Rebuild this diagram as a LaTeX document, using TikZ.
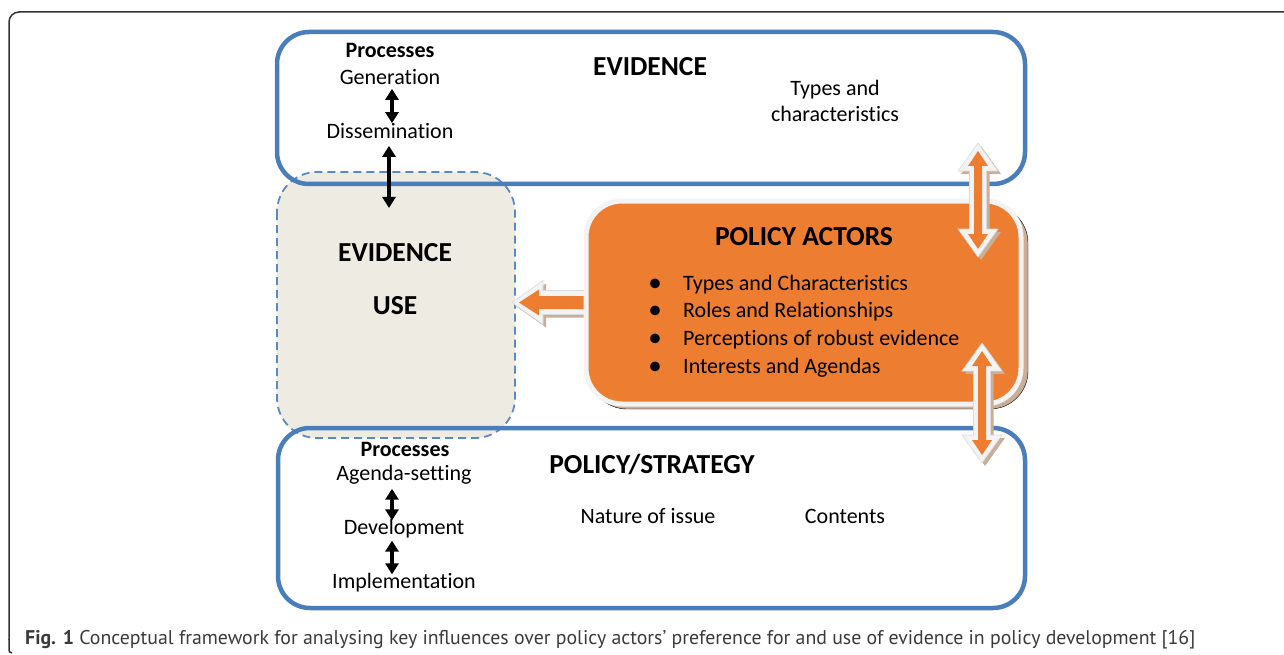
\documentclass[tikz,border=0pt]{standalone}
\usepackage{fontspec}
\usepackage{graphicx}
\setmainfont{Carlito}[Ligatures=NoCommon]
\newfontfamily\capfont{PT Sans}
\usetikzlibrary{arrows.meta,calc}
\definecolor{boxblue}{HTML}{4A7EBB}
\definecolor{dashblue}{HTML}{5A8AC6}
\definecolor{usefill}{HTML}{EEECE2}
\definecolor{actorfill}{HTML}{ED7D31}
\definecolor{glow}{HTML}{F3F3F3}
\definecolor{glowedge}{HTML}{DADADA}
\definecolor{shade}{HTML}{CBAE98}
\definecolor{framegray}{HTML}{333333}
\definecolor{captext}{HTML}{3A3A3A}
\newcommand\VArrowPath[7]{\path[#1] (#2,#3) -- ({#2+#5},{#3+#6}) -- ({#2+#7},{#3+#6}) -- ({#2+#7},{#4-#6}) -- ({#2+#5},{#4-#6}) -- (#2,#4) -- ({#2-#5},{#4-#6}) -- ({#2-#7},{#4-#6}) -- ({#2-#7},{#3+#6}) -- ({#2-#5},{#3+#6}) -- cycle;}
\newcommand\LArrowPath[7]{\path[#1] (#2,#3) -- ({#2+#6},{#3-#5}) -- ({#2+#6},{#3-#7}) -- (#4,{#3-#7}) -- (#4,{#3+#7}) -- ({#2+#6},{#3+#7}) -- ({#2+#6},{#3+#5}) -- cycle;}
\tikzset{
  txt/.style={inner sep=0pt, font=\fontsize{22}{26}\selectfont},
  hdr/.style={inner sep=0pt, font=\fontsize{27.5}{32}\selectfont\bfseries},
  subhdr/.style={inner sep=0pt, font=\fontsize{22}{26}\selectfont\bfseries},
  blk/.style={line width=3.2pt, {Triangle[width=13pt,length=11pt]}-{Triangle[width=13pt,length=11pt]}},
  bluebox/.style={draw=boxblue, line width=4.5pt, rounded corners=32pt},
  usebox/.style={draw=dashblue, line width=1.8pt, dash pattern=on 8pt off 5pt, fill=usefill, rounded corners=40pt},
  actorbox/.style={draw=glow, line width=5pt, fill=actorfill, rounded corners=36pt},
  actorshadow/.style={fill=shade, rounded corners=38pt},
  blockshadow/.style={fill=shade},
  blockout/.style={fill=glow, draw=glowedge, line width=0.6pt},
  blockin/.style={fill=actorfill},
  bullet/.style={inner sep=0pt, font=\fontsize{27}{27}\selectfont},
}
\begin{document}
\begin{tikzpicture}[x=1pt,y=-1pt]
\useasboundingbox (0,0) rectangle (1284,655);
% outer frame
\draw[framegray, line width=1.5pt, rounded corners=10pt] (1290,12) -- (9,12) -- (9,640);
\draw[framegray, line width=1.5pt] (9,639) -- (9,649) .. controls (9,652) .. (12,653);

% evidence use (drawn first, blue frames overlap it)
\draw[usebox] (277,172) rectangle (515,438);
\node[hdr] (useA) at (395,253) {EVIDENCE};
\node[hdr] (useB) at (395,306) {USE};

% top and bottom boxes
\draw[bluebox] (277,32) rectangle (1025,184);
\draw[bluebox] (278,428) rectangle (1025,608);

% evidence box text
\node[subhdr] (procA) at (390,50) {Processes};
\node[txt] (gen) at (390,77) {Generation};
\node[txt] (dis) at (390,131) {Dissemination};
\node[hdr] (evid) at (650,67) {EVIDENCE};
\node[txt, align=center] (types) at (835,101) {Types and\\[0pt]characteristics};
\coordinate (ax1) at (392,0);
\coordinate (ax2) at (389,0);
\coordinate (useTop) at (389,208);
\draw[blk] ($(gen.south -| ax1)+(0,4)$) -- ($(dis.north -| ax1)+(0,0)$);
\draw[blk] ($(dis.south -| ax2)+(0,7)$) -- (useTop);

% policy/strategy box text
\node[subhdr] (procB) at (405,449) {Processes};
\node[txt] (agenda) at (404,475) {Agenda-setting};
\node[txt] (devel) at (404,529) {Development};
\node[txt] (impl) at (404,583) {Implementation};
\node[hdr] (pol) at (652,464) {POLICY/STRATEGY};
\node[txt] (nature) at (648,516) {Nature of issue};
\node[txt] (cont) at (845,516) {Contents};
\coordinate (ax3) at (392,0);
\draw[blk] ($(agenda.south -| ax3)+(0,4)$) -- ($(devel.north -| ax3)+(0,1)$);
\draw[blk] ($(devel.south -| ax3)+(0,2)$) -- ($(impl.north -| ax3)+(0,1)$);

% left block arrow (policy actors -> evidence use)
\LArrowPath{blockshadow, shift={(3,3)}}{512}{302.5}{592}{22}{31}{12}
\LArrowPath{blockout}{512}{302.5}{592}{22}{31}{12}
\LArrowPath{blockin}{519}{302.5}{590}{13}{20}{6.5}

% policy actors box
\draw[actorshadow] (589,205) rectangle (1028,409);
\draw[actorbox] (586,201) rectangle (1021,404);
\node[hdr] (actors) at (804,237) {POLICY ACTORS};
\foreach \yy/\tt [count=\i] in {285/Types and Characteristics, 312/Roles and Relationships, 340/Perceptions of robust evidence, 368/Interests and Agendas}{
  \node[bullet] (b\i) at (655,\yy) {•};
  \node[txt, anchor=west] (item\i) at (683,\yy) {\tt};
}

% vertical double block arrows
\VArrowPath{blockshadow, shift={(3,3)}}{978}{143}{257}{20}{28}{8.5}
\VArrowPath{blockout}{978}{143}{257}{20}{28}{8.5}
\VArrowPath{blockin}{978}{151}{249}{10}{15}{4}
\VArrowPath{blockshadow, shift={(3,3)}}{982}{343}{463}{20}{28}{8.5}
\VArrowPath{blockout}{982}{343}{463}{20}{28}{8.5}
\VArrowPath{blockin}{982}{351}{455}{10}{15}{4}

% caption
\node[anchor=base west, inner sep=0pt, text=captext] (cap) at (25,644) {\resizebox{1170pt}{!}{\capfont\fontsize{20}{22}\selectfont\textbf{Fig. 1} Conceptual framework for analysing key influences over policy actors’ preference for and use of evidence in policy development [16]}};
\end{tikzpicture}
\end{document}
